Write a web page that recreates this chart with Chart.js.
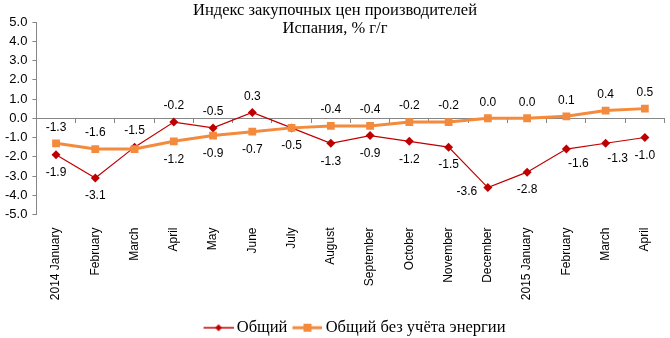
<!DOCTYPE html>
<html>
<head>
<meta charset="utf-8">
<script src="https://cdn.jsdelivr.net/npm/chart.js@4"></script>
<style>
  body { margin: 0; background: #fff; }
  #wrap { width: 670px; height: 338px; }
</style>
</head>
<body>
<div id="wrap"><canvas id="ppiChart" width="670" height="338"></canvas></div>
<script>
const months = ['2014 January', 'February', 'March', 'April', 'May', 'June', 'July', 'August',
    'September', 'October', 'November', 'December', '2015 January', 'February', 'March', 'April'];
const totalIndex = [-1.9, -3.1, -1.5, -0.2, -0.5, 0.3, -0.5, -1.3, -0.9, -1.2, -1.5, -3.6, -2.8, -1.6, -1.3, -1.0];
const coreIndex = [-1.3, -1.6, -1.6, -1.2, -0.9, -0.7, -0.5, -0.4, -0.4, -0.2, -0.2, 0.0, 0.0, 0.1, 0.4, 0.5];
const seriesNames = ['Общий', 'Общий без учёта энергии'];
const titleLines = ['Индекс закупочных цен производителей', 'Испания, % г/г'];

// where each value label sits: a above, b below, l left, r below-right, '' none
const totalLabelPos = ['b', 'b', 'a', 'a', 'a', 'a', '', 'b', 'b', 'b', 'b', 'l', 'b', 'r', 'r', 'b'];
const coreLabelPos = ['a', 'a', '', 'b', 'b', 'b', 'b', 'a', 'a', 'a', 'a', 'a', 'a', 'a', 'a', 'a'];

const RED = '#C00000';
const ORANGE = '#F48A3C';
const AXIS = '#868686';
const SERIF = '"Liberation Serif", "Times New Roman", serif';
const SANS = '"Liberation Sans", Arial, sans-serif';

// line + marker sample for the legend; drawn shifted right so it sits close to its text
function legendIcon(color, style, lineWidth, size) {
    const c = document.createElement('canvas');
    c.width = 40;
    c.height = 12;
    const g = c.getContext('2d');
    g.strokeStyle = color;
    g.fillStyle = color;
    g.lineWidth = lineWidth;
    g.beginPath();
    g.moveTo(10, 6);
    g.lineTo(40, 6);
    g.stroke();
    g.beginPath();
    if (style === 'diamond') {
        g.moveTo(25, 6 - size);
        g.lineTo(25 + size, 6);
        g.lineTo(25, 6 + size);
        g.lineTo(25 - size, 6);
    } else {
        g.rect(25 - size, 6 - size, size * 2, size * 2);
    }
    g.fill();
    return c;
}

const valueLabels = {
    id: 'valueLabels',
    afterDatasetsDraw(chart) {
        const ctx = chart.ctx;
        const placements = [totalLabelPos, coreLabelPos];
        ctx.save();
        ctx.font = '12px ' + SANS;
        ctx.fillStyle = '#000';
        ctx.textAlign = 'center';
        ctx.textBaseline = 'middle';
        chart.data.datasets.forEach((ds, i) => {
            const meta = chart.getDatasetMeta(i);
            meta.data.forEach((pt, j) => {
                const pos = placements[i][j];
                if (!pos) return;
                let dx = 0, dy = 0;
                if (pos === 'a') dy = -16;
                if (pos === 'b') dy = 18;
                if (pos === 'l') { dx = -21; dy = 4; }
                if (pos === 'r') { dx = 12; dy = 15; }
                ctx.fillText(ds.data[j].toFixed(1), pt.x + dx, pt.y + dy);
            });
        });
        ctx.restore();
    }
};

const titleText = {
    id: 'titleText',
    afterDraw(chart) {
        const ctx = chart.ctx;
        ctx.save();
        ctx.font = '16.5px ' + SERIF;
        ctx.fillStyle = '#000';
        ctx.textAlign = 'center';
        ctx.textBaseline = 'alphabetic';
        ctx.fillText(titleLines[0], 335, 15);
        ctx.fillText(titleLines[1], 335, 33);
        ctx.restore();
    }
};

// nudge the legend to the right, as in the original
const legendShift = {
    id: 'legendShift',
    afterLayout(chart) {
        if (chart.legend) {
            chart.legend.left += 17;
            chart.legend.right += 17;
        }
    }
};

new Chart(document.getElementById('ppiChart').getContext('2d'), {
    type: 'line',
    data: {
        labels: months,
        datasets: [
            {
                label: seriesNames[0],
                data: totalIndex,
                borderColor: RED,
                backgroundColor: RED,
                borderWidth: 1.2,
                pointStyle: 'rectRot',
                pointRadius: 4.5,
                pointBorderWidth: 0,
                tension: 0,
                order: 1
            },
            {
                label: seriesNames[1],
                data: coreIndex,
                borderColor: ORANGE,
                backgroundColor: ORANGE,
                borderWidth: 3,
                pointStyle: 'rect',
                pointRadius: 5.5,
                pointBorderWidth: 0,
                tension: 0,
                order: 0
            }
        ]
    },
    options: {
        responsive: false,
        animation: false,
        layout: { padding: { top: 22, right: 0, left: 0, bottom: -8 } },
        plugins: {
            title: { display: false },
            tooltip: { enabled: false },
            legend: {
                position: 'bottom',
                labels: {
                    usePointStyle: true,
                    pointStyleWidth: 30,
                    color: '#000',
                    font: { family: SERIF, size: 16.5 },
                    padding: 0,
                    sort: (a, b) => a.datasetIndex - b.datasetIndex,
                    generateLabels: chart => chart.data.datasets.map((ds, i) => ({
                        text: ds.label,
                        datasetIndex: i,
                        pointStyle: i === 0 ? legendIcon(RED, 'diamond', 1.5, 3.5) : legendIcon(ORANGE, 'square', 3, 4),
                        fontColor: '#000',
                        hidden: false
                    }))
                }
            }
        },
        scales: {
            x: {
                offset: true,
                border: { display: false },
                grid: { display: false },
                ticks: {
                    color: '#000',
                    font: { family: SANS, size: 12 },
                    maxRotation: 90,
                    minRotation: 90,
                    autoSkip: false,
                    padding: 5
                },
                afterFit: scale => {
                    scale.height = 105;
                    scale.paddingLeft = 0;
                    scale.paddingRight = 0;
                }
            },
            xZero: {
                type: 'category',
                labels: months,
                position: { y: 0 },
                offset: true,
                border: { display: true, color: AXIS, width: 1 },
                grid: { offset: true, drawOnChartArea: false, color: AXIS, tickLength: 4 },
                ticks: { display: false },
                afterFit: scale => {
                    scale.height = 0;
                    scale.paddingLeft = 0;
                    scale.paddingRight = 0;
                }
            },
            y: {
                min: -5,
                max: 5,
                border: { display: true, color: AXIS, width: 1 },
                grid: { drawOnChartArea: false, color: AXIS, tickLength: 4 },
                ticks: {
                    stepSize: 1,
                    color: '#000',
                    padding: 5,
                    font: { family: SANS, size: 13 },
                    callback: v => Number(v).toFixed(1)
                }
            }
        }
    },
    plugins: [valueLabels, titleText, legendShift]
});
</script>
</body>
</html>
